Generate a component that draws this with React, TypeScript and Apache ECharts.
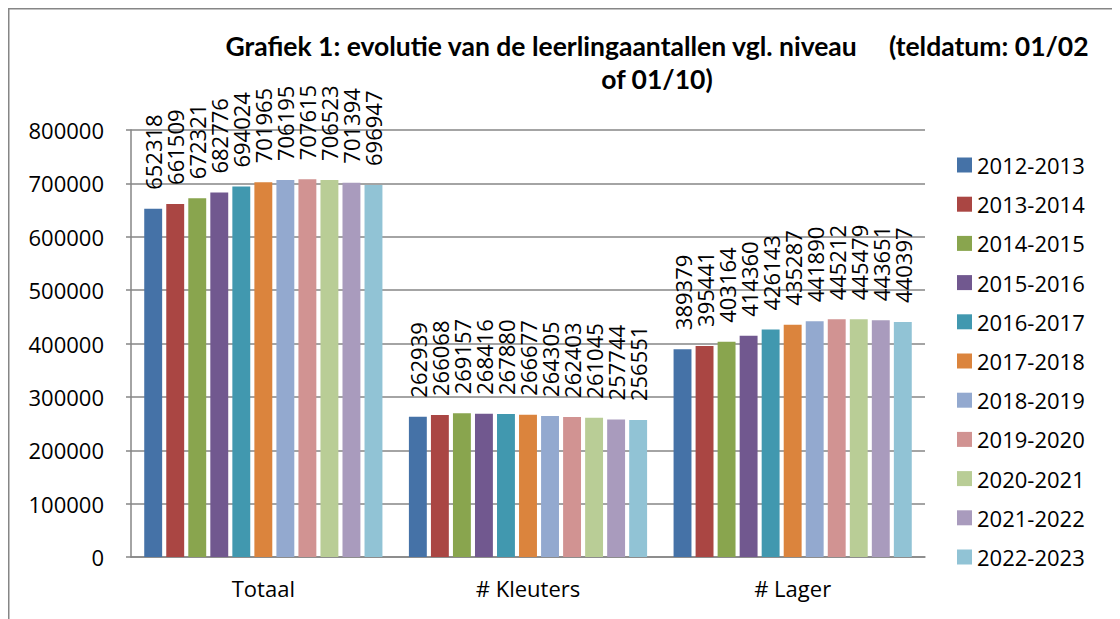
import React, { useEffect, useRef } from "react";
import * as echarts from "echarts";

const categories = ["Totaal", "# Kleuters", "# Lager"];
const years = [
  "2012-2013", "2013-2014", "2014-2015", "2015-2016", "2016-2017", "2017-2018",
  "2018-2019", "2019-2020", "2020-2021", "2021-2022", "2022-2023",
];
const totaal = [652318, 661509, 672321, 682776, 694024, 701965, 706195, 707615, 706523, 701394, 696947];
const kleuters = [262939, 266068, 269157, 268416, 267880, 266677, 264305, 262403, 261045, 257744, 256551];
const lager = [389379, 395441, 403164, 414360, 426143, 435287, 441890, 445212, 445479, 443651, 440397];
const colors = [
  "#4572A7", "#AA4643", "#89A54E", "#71588F", "#4198AF", "#DB843D",
  "#93A9CF", "#D19392", "#B9CD96", "#A99BBD", "#91C3D5",
];
const yTicks = { min: 0, max: 800000, interval: 100000 };
const titleText = "Grafiek 1: evolutie van de leerlingaantallen vgl. niveau     (teldatum: 01/02\nof 01/10)";

const FONT = "'Open Sans', 'Noto Sans', sans-serif";

export default function App() {
  const ref = useRef<HTMLDivElement>(null);
  useEffect(() => {
    if (!ref.current) return;
    const chart = echarts.init(ref.current, undefined, { renderer: "svg" });
    const series = years.map((y, i) => ({
      name: y,
      type: "bar",
      data: [totaal[i], kleuters[i], lager[i]],
      itemStyle: { color: colors[i] },
      barGap: "23%",
      barCategoryGap: "10%",
      label: {
        show: true,
        position: "top",
        rotate: 90,
        align: "left",
        verticalAlign: "middle",
        distance: 19,
        color: "#000",
        fontFamily: FONT,
        fontSize: 22,
      },
    }));
    chart.setOption({
      animation: false,
      title: {
        text: titleText,
        left: 644,
        top: 16,
        textAlign: "center",
        textStyle: {
          fontFamily: "Lato, sans-serif",
          fontWeight: "bold",
          fontSize: 26.5,
          lineHeight: 33,
          color: "#000",
        },
      },
      graphic: [
        {
          type: "rect",
          shape: { x: 0.75, y: 0.75, width: 1300, height: 800 },
          style: { fill: "none", stroke: "#868686", lineWidth: 1.5 },
          silent: true,
        },
      ],
      legend: {
        orient: "vertical",
        left: 944,
        top: 141,
        itemWidth: 15,
        itemHeight: 15,
        itemGap: 17.2,
        icon: "rect",
        textStyle: { fontFamily: FONT, fontSize: 22, lineHeight: 22, color: "#000" },
        data: years,
      },
      grid: { left: 123, right: 195, top: 122, bottom: 62, containLabel: false },
      xAxis: {
        type: "category",
        data: categories,
        axisLine: { lineStyle: { color: "#868686", width: 1.5 } },
        axisTick: { show: false },
        axisLabel: { fontFamily: FONT, fontSize: 22, color: "#000", margin: 20 },
      },
      yAxis: {
        type: "value",
        min: yTicks.min,
        max: yTicks.max,
        interval: yTicks.interval,
        axisLine: { show: true, lineStyle: { color: "#868686", width: 1.5 } },
        axisTick: { show: true, length: 5, lineStyle: { color: "#868686", width: 1.5 } },
        splitLine: { lineStyle: { color: "#868686", width: 1.5 } },
        axisLabel: {
          fontFamily: FONT,
          fontSize: 22,
          color: "#000",
          margin: 27,
          formatter: (v: number) => String(v),
        },
      },
      series,
    });
    return () => chart.dispose();
  }, []);
  return <div ref={ref} style={{ width: 1112, height: 611 }} />;
}
